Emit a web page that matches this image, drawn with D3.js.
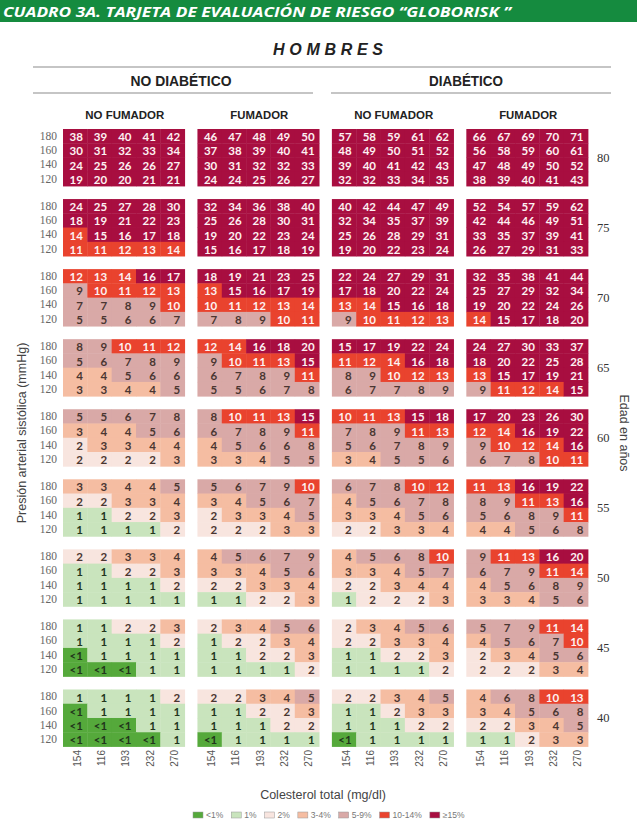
<!DOCTYPE html>
<html><head><meta charset="utf-8">
<script src="https://cdn.jsdelivr.net/npm/d3@7"></script>
<style>body{margin:0;background:#fff}svg{display:block}</style>
</head><body>
<svg id="c" width="637" height="826"></svg>
<script>
// ---------- DATA ----------
const cholLabels = ["154","116","193","232","270"];
const sbpLabels = ["180","160","140","120"];
const ageLabels = ["80","75","70","65","60","55","50","45","40"];
const diabetesGroups = ["NO DIABÉTICO","DIABÉTICO"];
const smokingGroups = ["NO FUMADOR","FUMADOR","NO FUMADOR","FUMADOR"];
const legendLabels = ["<1%","1%","2%","3-4%","5-9%","10-14%","≥15%"];
// risk (%) per age block -> rows (SBP 180..120) -> columns (cholesterol); 0 means "<1"
const noDiabNoSmoke = [
 [[38,39,40,41,42],[30,31,32,33,34],[24,25,26,26,27],[19,20,20,21,21]],
 [[24,25,27,28,30],[18,19,21,22,23],[14,15,16,17,18],[11,11,12,13,14]],
 [[12,13,14,16,17],[9,10,11,12,13],[7,7,8,9,10],[5,5,6,6,7]],
 [[8,9,10,11,12],[5,6,7,8,9],[4,4,5,6,6],[3,3,4,4,5]],
 [[5,5,6,7,8],[3,4,4,5,6],[2,3,3,4,4],[2,2,2,2,3]],
 [[3,3,4,4,5],[2,2,3,3,4],[1,1,2,2,3],[1,1,1,1,2]],
 [[2,2,3,3,4],[1,1,2,2,3],[1,1,1,1,2],[1,1,1,1,1]],
 [[1,1,2,2,3],[1,1,1,1,2],[0,1,1,1,1],[0,0,0,1,1]],
 [[1,1,1,1,2],[0,1,1,1,1],[0,0,0,1,1],[0,0,0,0,1]]
];
const noDiabSmoke = [
 [[46,47,48,49,50],[37,38,39,40,41],[30,31,32,32,33],[24,24,25,26,27]],
 [[32,34,36,38,40],[25,26,28,30,31],[19,20,22,23,24],[15,16,17,18,19]],
 [[18,19,21,23,25],[13,15,16,17,19],[10,11,12,13,14],[7,8,9,10,11]],
 [[12,14,16,18,20],[9,10,11,13,15],[6,7,8,9,11],[5,5,6,7,8]],
 [[8,10,11,13,15],[6,7,8,9,11],[4,5,6,6,8],[3,3,4,5,5]],
 [[5,6,7,9,10],[3,4,5,6,7],[2,3,3,4,5],[2,2,2,3,3]],
 [[4,5,6,7,9],[3,3,4,5,6],[2,2,3,3,4],[1,1,2,2,3]],
 [[2,3,4,5,6],[1,2,2,3,4],[1,1,2,2,3],[1,1,1,1,2]],
 [[2,2,3,4,5],[1,1,2,2,3],[1,1,1,2,2],[0,1,1,1,1]]
];
const diabNoSmoke = [
 [[57,58,59,61,62],[48,49,50,51,52],[39,40,41,42,43],[32,32,33,34,35]],
 [[40,42,44,47,49],[32,34,35,37,39],[25,26,28,29,31],[19,20,22,23,24]],
 [[22,24,27,29,31],[17,18,20,22,24],[13,14,15,16,18],[9,10,11,12,13]],
 [[15,17,19,22,24],[11,12,14,16,18],[8,9,10,12,13],[6,7,7,8,9]],
 [[10,11,13,15,18],[7,8,9,11,13],[5,6,7,8,9],[3,4,5,5,6]],
 [[6,7,8,10,12],[4,5,6,7,8],[3,3,4,5,6],[2,2,3,3,4]],
 [[4,5,6,8,10],[3,3,4,5,7],[2,2,3,4,4],[1,2,2,2,3]],
 [[2,3,4,5,6],[2,2,3,3,4],[1,1,2,2,3],[1,1,1,1,2]],
 [[2,2,3,4,5],[1,1,2,3,3],[1,1,1,2,2],[0,1,1,1,1]]
];
const diabSmoke = [
 [[66,67,69,70,71],[56,58,59,60,61],[47,48,49,50,52],[38,39,40,41,43]],
 [[52,54,57,59,62],[42,44,46,49,51],[33,35,37,39,41],[26,27,29,31,33]],
 [[32,35,38,41,44],[25,27,29,32,34],[19,20,22,24,26],[14,15,17,18,20]],
 [[24,27,30,33,37],[18,20,22,25,28],[13,15,17,19,21],[9,11,12,14,15]],
 [[17,20,23,26,30],[12,14,16,19,22],[9,10,12,14,16],[6,7,8,10,11]],
 [[11,13,16,19,22],[8,9,11,13,16],[5,6,8,9,11],[4,4,5,6,8]],
 [[9,11,13,16,20],[6,7,9,11,14],[4,5,6,8,9],[3,3,4,5,6]],
 [[5,7,9,11,14],[4,5,6,7,10],[2,3,4,5,6],[2,2,2,3,4]],
 [[4,6,8,10,13],[3,4,5,6,8],[2,2,3,4,5],[1,1,2,3,3]]
];
const panels = [noDiabNoSmoke, noDiabSmoke, diabNoSmoke, diabSmoke];
const thresholds = [1,2,3,5,10,15];
const palette = ["#55a93b","#c9e4bd","#f8e5df","#f5bda2","#d9a9a7","#e9432e","#a80e40"];

// ---------- LAYOUT ----------
const svg = d3.select("#c");
const FONT = "'Liberation Sans', Arial, sans-serif";
const NARROW = "'Liberation Sans Narrow', 'Liberation Sans', Arial, sans-serif";
const color = d3.scaleThreshold().domain(thresholds).range(palette);

const panelX = d3.scaleBand().domain(d3.range(4)).range([63, 588]).paddingInner(0.095);
const ageY = d3.scaleBand().domain(ageLabels).range([129, 746.5]).paddingInner(0.186);
const colX = d3.scaleBand().domain(cholLabels).range([0, panelX.bandwidth()]);
const rowY = d3.scaleBand().domain(sbpLabels).range([0, ageY.bandwidth()]);

// title bar
svg.append("rect").attr("x",0).attr("y",0).attr("width",637).attr("height",22).attr("fill","#158b3f");
svg.append("text").attr("x",3).attr("y",16.5)
  .attr("fill","#fff").attr("font-family","'Open Sans', sans-serif").attr("font-weight","bold")
  .attr("font-style","italic").attr("font-size",14.5)
  .attr("textLength",508).attr("lengthAdjust","spacingAndGlyphs")
  .text("CUADRO 3A. TARJETA DE EVALUACIÓN DE RIESGO “GLOBORISK ”");

svg.append("text").attr("x",328).attr("y",55).attr("text-anchor","middle")
  .attr("font-family",FONT).attr("font-weight","bold").attr("font-style","italic").attr("font-size",16)
  .attr("fill","#222").attr("textLength",110).attr("lengthAdjust","spacing").text("HOMBRES");

svg.append("line").attr("x1",33).attr("x2",611).attr("y1",67).attr("y2",67).attr("stroke","#8c8c8c").attr("stroke-width",1.2);
[[33,313],[331,611]].forEach(([a,b])=>{
  svg.append("line").attr("x1",a).attr("x2",b).attr("y1",93).attr("y2",93).attr("stroke","#8c8c8c").attr("stroke-width",1.2);
});
const diabCenters = [181, 466], diabLen = [101, 74];
diabetesGroups.forEach((g,i)=>{
  svg.append("text").attr("x",diabCenters[i]).attr("y",85.5).attr("text-anchor","middle")
   .attr("font-family",NARROW).attr("font-weight","bold").attr("font-size",15).attr("fill","#222")
   .attr("textLength",diabLen[i]).attr("lengthAdjust","spacingAndGlyphs").text(g);
});
smokingGroups.forEach((g,i)=>{
  svg.append("text").attr("x",panelX(i)+panelX.bandwidth()/2+1).attr("y",119).attr("text-anchor","middle")
   .attr("font-family",NARROW).attr("font-weight","bold").attr("font-size",11).attr("fill","#222")
   .attr("textLength", g.length>8?79:58).attr("lengthAdjust","spacingAndGlyphs").text(g);
});

// cells
const gridG = svg.append("g");
panels.forEach((panel,p)=>{
  const pg = gridG.append("g").attr("transform",`translate(${panelX(p)},0)`);
  panel.forEach((block,a)=>{
    const bg = pg.append("g").attr("transform",`translate(0,${ageY(ageLabels[a])})`);
    const cells = [];
    block.forEach((row,r)=>row.forEach((v,c)=>cells.push({v, r:sbpLabels[r], c:cholLabels[c]})));
    bg.selectAll("rect").data(cells).join("rect")
      .attr("x",d=>colX(d.c)).attr("y",d=>rowY(d.r))
      .attr("width",colX.bandwidth()+0.4).attr("height",rowY.bandwidth()+0.4)
      .attr("fill",d=>color(d.v));
    bg.selectAll("text").data(cells).join("text")
      .attr("x",d=>colX(d.c)+colX.bandwidth()-4.5).attr("y",d=>rowY(d.r)+rowY.bandwidth()/2+0.5)
      .attr("text-anchor","end").attr("dominant-baseline","central")
      .attr("font-family","Lato, 'Open Sans', sans-serif").attr("font-weight","bold").attr("font-size",11.5)
      .attr("fill",d=>d.v>=10?"#fdf1f2":(d.v<=1?"#22361c":"#4a3631"))
      .text(d=>d.v===0?"<1":d.v);
  });
});

// SBP axes (left of each age block)
ageLabels.forEach(a=>{
  const ax = svg.append("g").attr("transform",`translate(${panelX(0)},${ageY(a)})`)
    .call(d3.axisLeft(rowY).tickSize(0).tickPadding(6));
  ax.select(".domain").remove();
  ax.selectAll("text").attr("font-family","'Liberation Serif', serif").attr("font-size",11.5).attr("fill","#666");
});

// Age axis (right)
const ageAx = svg.append("g").attr("transform",`translate(${panelX(3)+panelX.bandwidth()},0)`)
  .call(d3.axisRight(ageY).tickSize(0).tickPadding(9));
ageAx.select(".domain").remove();
ageAx.selectAll("text").attr("font-family","'Liberation Serif', serif").attr("font-size",12.5).attr("fill","#333");

// Cholesterol axes (bottom of each panel)
d3.range(4).forEach(p=>{
  const ax = svg.append("g").attr("transform",`translate(${panelX(p)},747)`)
    .call(d3.axisBottom(colX).tickSize(0));
  ax.select(".domain").remove();
  ax.selectAll("text").attr("transform","rotate(-90)").attr("text-anchor","end")
    .attr("x",-3).attr("y",2).attr("dy","0.35em")
    .attr("font-family",FONT).attr("font-size",10).attr("fill","#555");
});

// axis titles
svg.append("text").attr("transform","translate(26,433) rotate(-90)").attr("text-anchor","middle")
  .attr("font-family",FONT).attr("font-size",12.5).attr("fill","#444").text("Presión arterial sistólica (mmHg)");
svg.append("text").attr("transform","translate(620,433) rotate(90)").attr("text-anchor","middle")
  .attr("font-family",FONT).attr("font-size",12.5).attr("fill","#444").text("Edad en años");
svg.append("text").attr("x",323).attr("y",799).attr("text-anchor","middle")
  .attr("font-family",FONT).attr("font-size",12.5).attr("fill","#444").text("Colesterol total (mg/dl)");

// legend
const lg = svg.append("g");
let lx = 193;
legendLabels.forEach((l,i)=>{
  lg.append("rect").attr("x",lx).attr("y",812).attr("width",10).attr("height",6)
    .attr("fill",palette[i]).attr("stroke","#999").attr("stroke-width",0.5);
  const t = lg.append("text").attr("x",lx+13).attr("y",815.3).attr("dominant-baseline","central")
    .attr("font-family",FONT).attr("font-size",8.5).attr("fill","#777").text(l);
  lx += 13 + t.node().getComputedTextLength() + 8;
});
</script>
</body></html>
